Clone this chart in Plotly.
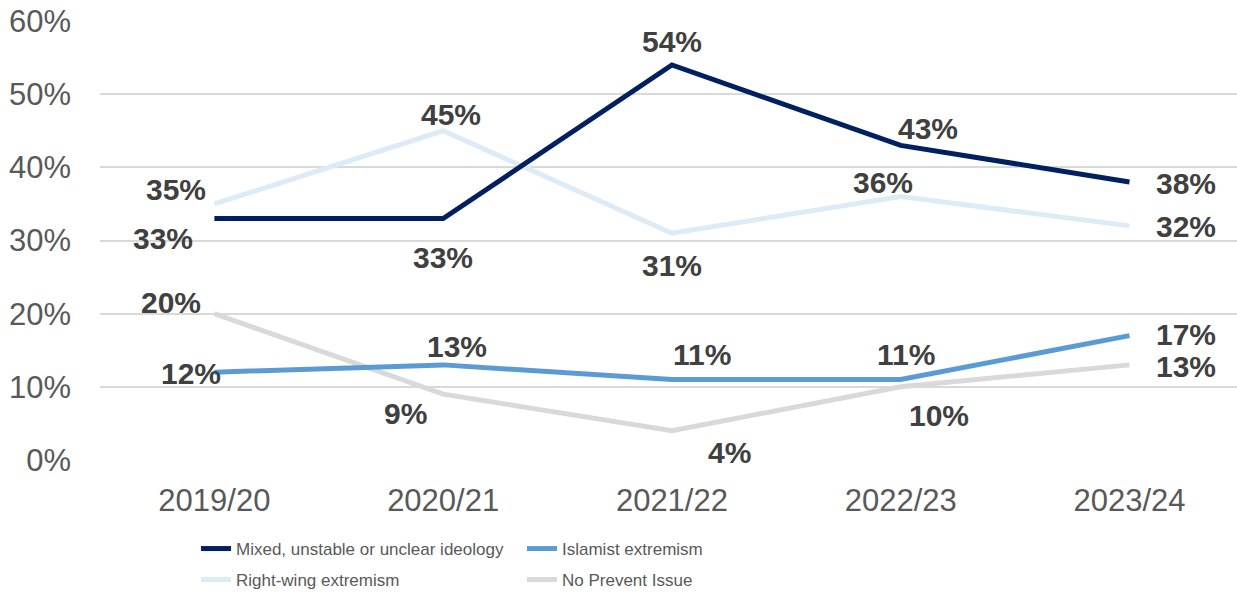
import plotly.graph_objects as go

# Share of referrals by type of concern, per year
years = ["2019/20", "2020/21", "2021/22", "2022/23", "2023/24"]
mixed = [33, 33, 54, 43, 38]
right_wing = [35, 45, 31, 36, 32]
islamist = [12, 13, 11, 11, 17]
no_prevent = [20, 9, 4, 10, 13]

# legend slot for each series: (left edge px, row centre px)
series = [
    # name, values, colour, legend, label offsets (dx, dy) in px
    ("Mixed, unstable or unclear ideology", mixed, "#002060", "legend",
     [(-51, -20), (0, -39), (0, 23), (27, 17), (57, -2)]),
    ("Islamist extremism", islamist, "#5B9BD5", "legend2",
     [(-23, -1), (14, 18), (30, 25), (5, 25), (57, 1)]),
    ("Right-wing extremism", right_wing, "#DDEBF7", "legend3",
     [(-38, 14), (8, 16), (0, -32), (-18, 14), (57, -1)]),
    ("No Prevent Issue", no_prevent, "#D9D9D9", "legend4",
     [(-43, 11), (-38, -19), (58, -22), (38, -29), (57, -2)]),
]
legend_slots = {
    "legend": (196, 549),
    "legend2": (522, 549),
    "legend3": (196, 580),
    "legend4": (522, 580),
}

PLOT_LEFT, PLOT_W = 100, 1137
PLOT_BOTTOM, PLOT_H = 460, 439

fig = go.Figure()
annotations = []
# draw lines in an order that keeps the dark line on top
draw_order = [3, 2, 1, 0]
for idx in draw_order:
    name, vals, colour, leg, offs = series[idx]
    fig.add_trace(go.Scatter(
        x=list(range(len(years))), y=vals, name=name, mode="lines",
        line=dict(color=colour, width=5), legend=leg,
        hoverinfo="skip",
    ))
for name, vals, colour, leg, offs in series:
    for i, v in enumerate(vals):
        dx, dy = offs[i]
        annotations.append(dict(
            x=i, y=v, xref="x", yref="y", text=f"{v}%", showarrow=False,
            xshift=dx, yshift=dy,
            font=dict(family="Liberation Sans, Arial, sans-serif", size=30,
                      color="#404040", weight="bold"),
        ))

legend_font = dict(family="Liberation Sans, Arial, sans-serif",
                   size=17, color="#595959")

legends = {}
for key, (lx, ly) in legend_slots.items():
    legends[key] = dict(
        x=(lx - PLOT_LEFT) / PLOT_W, y=(PLOT_BOTTOM - ly) / PLOT_H,
        xanchor="left", yanchor="middle", orientation="v",
        font=legend_font, bgcolor="rgba(0,0,0,0)", itemwidth=30,
    )

fig.update_layout(
    width=1237, height=599,
    margin=dict(l=100, r=0, t=21, b=139),
    plot_bgcolor="white", paper_bgcolor="white",
    font=dict(family="Liberation Sans, Arial, sans-serif", color="#595959"),
    xaxis=dict(
        range=[-0.5, 4.47], tickmode="array",
        tickvals=list(range(len(years))), ticktext=years,
        showgrid=False, zeroline=False, showline=False,
        tickfont=dict(size=31, color="#595959"), ticks="",
        ticklabelstandoff=19,
    ),
    yaxis=dict(
        range=[0, 60], dtick=10, ticksuffix="%",
        showgrid=True, gridcolor="#D9D9D9", gridwidth=1.5,
        zeroline=False, showline=False,
        tickfont=dict(size=31, color="#595959"), ticks="",
        ticklabelstandoff=28,
    ),
    annotations=annotations,
    showlegend=True,
    **legends,
)

fig.write_html("out.html")
